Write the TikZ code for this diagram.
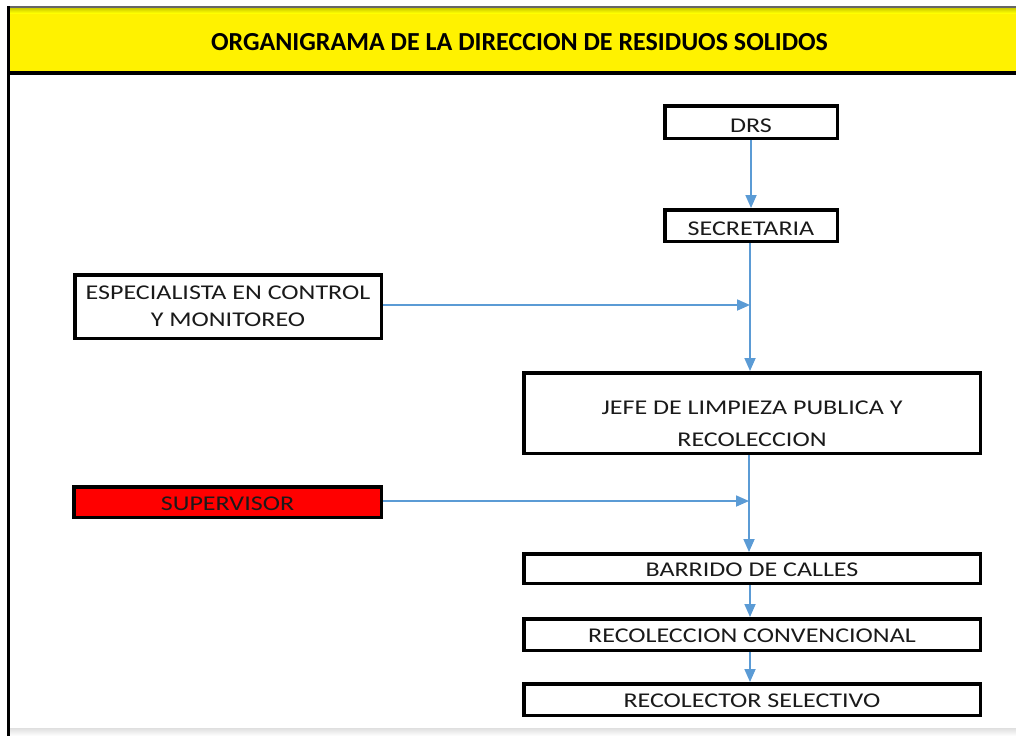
\documentclass[tikz,border=0pt]{standalone}
\usepackage{fontspec}
\setmainfont{Carlito}[FakeStretch=1.24]
\newfontfamily\titlefont{Carlito}
\usetikzlibrary{arrows.meta}
\definecolor{arrblue}{HTML}{5B9BD5}
\definecolor{txt}{HTML}{1A1A1A}
\newcommand\lift[1]{\rule{0pt}{#1}}
\tikzset{
  box/.style={draw=black, line width=3.5pt, fill=white, inner sep=0pt, align=center,
    text=txt, font=\fontsize{21}{27}\selectfont},
  conn/.style={draw=arrblue, line width=1.8pt, -{Triangle[length=13pt,width=11pt]}}
}
\begin{document}
\begin{tikzpicture}[x=1pt,y=-1pt]
\useasboundingbox (0,0) rectangle (1016,736);
% frame
\fill[white] (0,0) rectangle (1016,736);
\fill[yellow] (8,8) rectangle (1016,71);
\shade[top color=yellow!80!black, bottom color=yellow] (8,8) rectangle (1016,13);
\shade[top color=gray!25, bottom color=white] (10,728) rectangle (1016,736);
\draw[gray!80!black, line width=2pt] (7,7) -- (1016,7);
\draw[black, line width=4pt] (8,72.7) -- (1016,72.7);
\draw[black, line width=3pt] (8.5,6) -- (8.5,736);
\node[font=\titlefont\fontsize{26}{30}\selectfont\bfseries, text=black, inner sep=0pt] (title) at (519.5,42) {ORGANIGRAMA DE LA DIRECCION DE RESIDUOS SOLIDOS};
% nodes
\node[box, minimum width=172.5pt, minimum height=32.5pt] (drs) at (751,122) {\lift{21.5pt}DRS};
\node[box, minimum width=172.5pt, minimum height=31.5pt] (sec) at (751,225.5) {\lift{20.5pt}SECRETARIA};
\node[box, minimum width=306.5pt, minimum height=63.5pt] (esp) at (228,306.5) {ESPECIALISTA EN CONTROL\\Y MONITOREO};
\node[box, minimum width=456.5pt, minimum height=80.5pt] (jefe) at (752,413) {\lift{35pt}JEFE DE LIMPIEZA PUBLICA Y\\[5.5pt]RECOLECCION};
\node[box, fill=red, minimum width=307.5pt, minimum height=30.5pt] (sup) at (227.5,502) {\lift{17.5pt}SUPERVISOR};
\node[box, minimum width=456.5pt, minimum height=29.5pt] (barr) at (752,568.5) {\lift{16pt}BARRIDO DE CALLES};
\node[box, minimum width=456.5pt, minimum height=31.5pt] (conv) at (752,634.5) {\lift{15.5pt}RECOLECCION CONVENCIONAL};
\node[box, minimum width=456.5pt, minimum height=31.5pt] (sel) at (752,699.5) {\lift{15.5pt}RECOLECTOR SELECTIVO};
% connectors
\coordinate (t1) at (750,305);
\coordinate (t2) at (749,501);
\draw[conn] (drs.south -| 751,0) -- (sec.north -| 751,0);
\draw[conn] (sec.south -| 750,0) -- (jefe.north -| 750,0);
\draw[conn] (esp.east |- t1) -- (t1);
\draw[conn] (jefe.south -| 749,0) -- (barr.north -| 749,0);
\draw[conn] (sup.east |- t2) -- (t2);
\draw[conn] (barr.south -| 750,0) -- (conv.north -| 750,0);
\draw[conn] (conv.south -| 750,0) -- (sel.north -| 750,0);
\end{tikzpicture}
\end{document}
